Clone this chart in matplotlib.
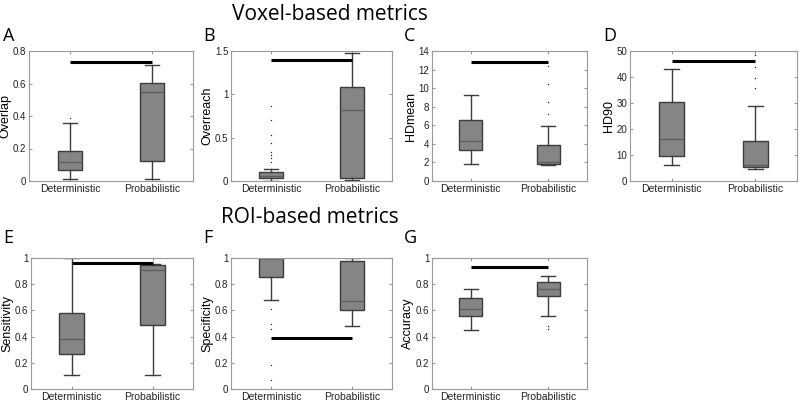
import numpy as np
import matplotlib.pyplot as plt

plt.rcParams['font.family'] = ['Liberation Sans', 'DejaVu Sans']

groups = ["Deterministic", "Probabilistic"]

# per panel: (whislo, q1, med, q3, whishi) for each group, outliers, sig line y
overlap_det = [0.01, 0.065, 0.12, 0.185, 0.36]
overlap_prob = [0.015, 0.125, 0.545, 0.605, 0.715]
overlap_fl = [[0.39], []]

overreach_det = [0.0, 0.03, 0.06, 0.10, 0.14]
overreach_prob = [0.01, 0.03, 0.82, 1.08, 1.48]
overreach_fl = [[0.22, 0.26, 0.30, 0.33, 0.44, 0.53, 0.70, 0.86], []]

hdmean_det = [1.8, 3.3, 4.3, 6.6, 9.3]
hdmean_prob = [1.7, 1.85, 2.1, 3.85, 5.95]
hdmean_fl = [[], [7.2, 8.5, 10.4, 12.4]]

hd90_det = [6.0, 9.8, 16.0, 30.2, 43.0]
hd90_prob = [4.5, 5.5, 6.0, 15.2, 28.7]
hd90_fl = [[], [35.7, 39.5, 43.7, 48.4, 49.9]]

sens_det = [0.11, 0.265, 0.385, 0.58, 1.0]
sens_prob = [0.11, 0.485, 0.91, 0.945, 0.955]
sens_fl = [[], []]

spec_det = [0.68, 0.855, 1.0, 1.0, 1.0]
spec_prob = [0.48, 0.605, 0.67, 0.98, 1.0]
spec_fl = [[0.61, 0.50, 0.46, 0.18, 0.07], []]

acc_det = [0.45, 0.555, 0.61, 0.695, 0.765]
acc_prob = [0.56, 0.71, 0.765, 0.815, 0.86]
acc_fl = [[], [0.48, 0.455]]

panels = [
    ("A", "Overlap", overlap_det, overlap_prob, overlap_fl, 0.735, (0, 0.8), [0, 0.2, 0.4, 0.6, 0.8]),
    ("B", "Overreach", overreach_det, overreach_prob, overreach_fl, 1.40, (0, 1.5), [0, 0.5, 1, 1.5]),
    ("C", "HDmean", hdmean_det, hdmean_prob, hdmean_fl, 12.85, (0, 14), list(range(0, 15, 2))),
    ("D", "HD90", hd90_det, hd90_prob, hd90_fl, 46.0, (0, 50), list(range(0, 51, 10))),
    ("E", "Sensitivity", sens_det, sens_prob, sens_fl, 0.965, (0, 1), [0, 0.2, 0.4, 0.6, 0.8, 1]),
    ("F", "Specificity", spec_det, spec_prob, spec_fl, 0.39, (0, 1), [0, 0.2, 0.4, 0.6, 0.8, 1]),
    ("G", "Accuracy", acc_det, acc_prob, acc_fl, 0.935, (0, 1), [0, 0.2, 0.4, 0.6, 0.8, 1]),
]

W, H = 800., 401.
# pixel boxes: left, top, right, bottom
boxes = [(29, 51, 193, 181), (231, 51, 392, 181), (432, 51, 587, 181), (630, 51, 797, 181),
         (31, 258, 193, 389), (231, 258, 392, 389), (432, 258, 587, 389)]
letter_pos = [(3, 45), (203, 45), (404, 45), (603, 45), (3, 247), (203, 247), (404, 247)]

fig = plt.figure(figsize=(8, 4.01), dpi=100)

for (lab, ylab, det, prob, fl, sig, ylim, yt), (l, t, r, b), (lx, ly) in zip(panels, boxes, letter_pos):
    ax = fig.add_axes([l / W, 1 - b / H, (r - l) / W, (b - t) / H])
    stats = []
    for g, s, f in zip(groups, [det, prob], fl):
        stats.append(dict(label=g, whislo=s[0], q1=s[1], med=s[2], q3=s[3], whishi=s[4], fliers=f))
    ax.bxp(stats, positions=[1, 2], widths=0.3, patch_artist=True,
           boxprops=dict(facecolor="#858585", edgecolor="#3c3c3c", linewidth=1.0),
           medianprops=dict(color="#5e5e5e", linewidth=1.0),
           whiskerprops=dict(color="#3c3c3c", linewidth=1.0),
           capprops=dict(color="#3c3c3c", linewidth=1.0),
           capwidths=0.18,
           flierprops=dict(marker=".", markersize=2, markerfacecolor="#222222",
                           markeredgecolor="none", linestyle="none"))
    ax.plot([1, 2], [sig, sig], color="black", linewidth=2.2, solid_capstyle="butt", zorder=5)
    ax.set_xlim(0.5, 2.5)
    ax.set_ylim(*ylim)
    ax.set_yticks(yt)
    ax.set_yticklabels([("%g" % v) for v in yt])
    ax.set_xticks([1, 2])
    ax.set_xticklabels(groups, fontsize=7.5, color="#222222")
    ax.tick_params(axis="y", labelsize=7, colors="#222222")
    ax.tick_params(direction="in", length=2, color="#999999", top=True, right=True, pad=2)
    for sp in ax.spines.values():
        sp.set_color("#9a9a9a")
        sp.set_linewidth(0.8)
    ax.set_ylabel(ylab, fontsize=9, labelpad=1)
    fig.text(lx / W, 1 - ly / H, lab, fontsize=13, family="Open Sans", va="bottom", ha="left")

fig.text(330 / W, 1 - 14 / H, "Voxel-based metrics", fontsize=15, family="Open Sans",
         ha="center", va="center")
fig.text(310 / W, 1 - 217 / H, "ROI-based metrics", fontsize=15, family="Open Sans",
         ha="center", va="center")

fig.savefig("out.png", dpi=100)
